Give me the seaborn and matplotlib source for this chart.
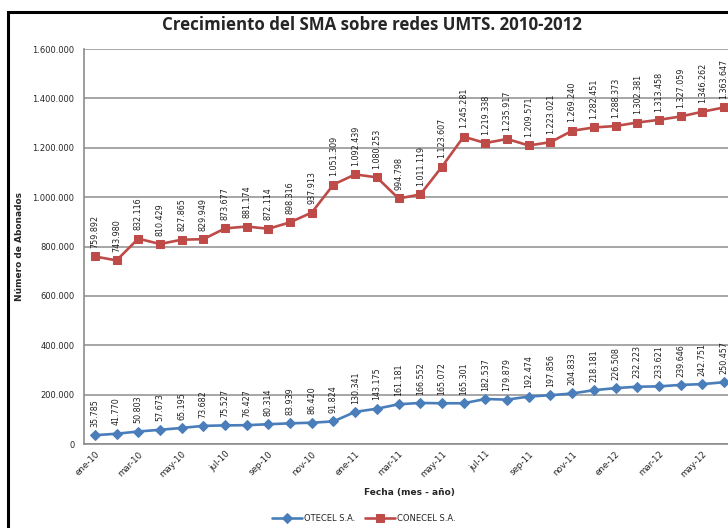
import numpy as np
import pandas as pd
import seaborn as sns
from matplotlib import pyplot as plt
from matplotlib.patches import Rectangle

months = ["ene", "feb", "mar", "abr", "may", "jun", "jul", "ago", "sep", "oct", "nov", "dic"]
fechas = [m + "-" + y for y in ["10", "11"] for m in months] + \
         [m + "-12" for m in months[:6]]

otecel = [35785, 41770, 50803, 57673, 65195, 73682, 75527, 76427, 80314, 83939,
          86420, 91824, 130341, 143175, 161181, 166552, 165072, 165301, 182537, 179879,
          192474, 197856, 204833, 218181, 226508, 232223, 233621, 239646, 242751, 250457]
conecel = [759892, 743980, 832116, 810429, 827865, 829949, 873677, 881174, 872114, 898316,
           937913, 1051309, 1092439, 1080253, 994798, 1011119, 1123607, 1245281, 1219338, 1235917,
           1209571, 1223021, 1269240, 1282451, 1288373, 1302381, 1313458, 1327059, 1346262, 1363647]

def miles(v):
    return f"{int(v):,}".replace(",", ".")

df = pd.DataFrame({"i": range(len(fechas)), "fecha": fechas,
                   "OTECEL S.A.": otecel, "CONECEL S.A.": conecel})

sns.set_style("white")
plt.rcParams['font.family'] = ['DejaVu Sans']

fig = plt.figure(figsize=(7.28, 5.28), dpi=100)
ax = fig.add_axes([0.1154, 0.159, 0.894, 0.748])

azul = "#4A7EBB"
rojo = "#BE4B48"
sns.lineplot(data=df, x="i", y="OTECEL S.A.", ax=ax, color=azul, lw=1.9,
             marker="D", markersize=5, markeredgecolor=azul, label="OTECEL S.A.")
sns.lineplot(data=df, x="i", y="CONECEL S.A.", ax=ax, color=rojo, lw=1.9,
             marker="s", markersize=6, markeredgecolor=rojo, label="CONECEL S.A.")

for serie in [otecel, conecel]:
    for i, v in enumerate(serie):
        ax.annotate(miles(v), (i, v), xytext=(0, 6), textcoords="offset points",
                    rotation=90, ha="center", va="bottom", fontsize=5.8, color="#222222")

ax.set_xlim(-0.5, len(fechas) - 0.5)
ax.set_ylim(0, 1600000)
ax.set_yticks(np.arange(0, 1600001, 200000))
ax.set_yticklabels([miles(v) for v in np.arange(0, 1600001, 200000)], fontsize=6)
ax.yaxis.grid(True, color="#a6a6a6", lw=1.4)
ax.set_axisbelow(True)

ax.set_xticks(np.arange(-0.5, len(fechas), 2))
ax.set_xticklabels([])
ax.set_xticks(np.arange(0, len(fechas), 2), minor=True)
ax.set_xticklabels(fechas[::2], minor=True, rotation=45, ha="right",
                   rotation_mode="anchor", fontsize=6.3)
ax.tick_params(axis="x", which="major", length=4, width=1, color="#8c8c8c", direction="out")
ax.tick_params(axis="x", which="minor", length=0, pad=4)
ax.tick_params(axis="y", length=4, width=1, color="#8c8c8c", direction="out", pad=3)

for s in ["top", "right"]:
    ax.spines[s].set_visible(False)
for s in ["left", "bottom"]:
    ax.spines[s].set_color("#8c8c8c")
    ax.spines[s].set_linewidth(1.2)

ax.set_xlabel("Fecha (mes - año)", fontsize=6.5, fontweight="bold", labelpad=6)
ax.set_ylabel("Número de Abonados", fontsize=6.5, fontweight="bold")
ax.yaxis.set_label_coords(-0.092, 0.5)

ax.legend_.remove()
h, l = ax.get_legend_handles_labels()
fig.legend(h, l, loc="lower center", bbox_to_anchor=(0.5, -0.005), ncol=2,
           frameon=False, fontsize=6, handlelength=3.5, columnspacing=1.2, handletextpad=0.3)

fig.text(0.511, 0.953, "Crecimiento del SMA sobre redes UMTS. 2010-2012",
         ha="center", va="center", fontsize=12.2, fontweight="bold", family="Open Sans")

fig.patches.append(Rectangle((0.011, -0.1), 1.2, 1.077, transform=fig.transFigure,
                             fill=False, ec="black", lw=2.2))

fig.savefig("out.png", dpi=100, facecolor="white")
